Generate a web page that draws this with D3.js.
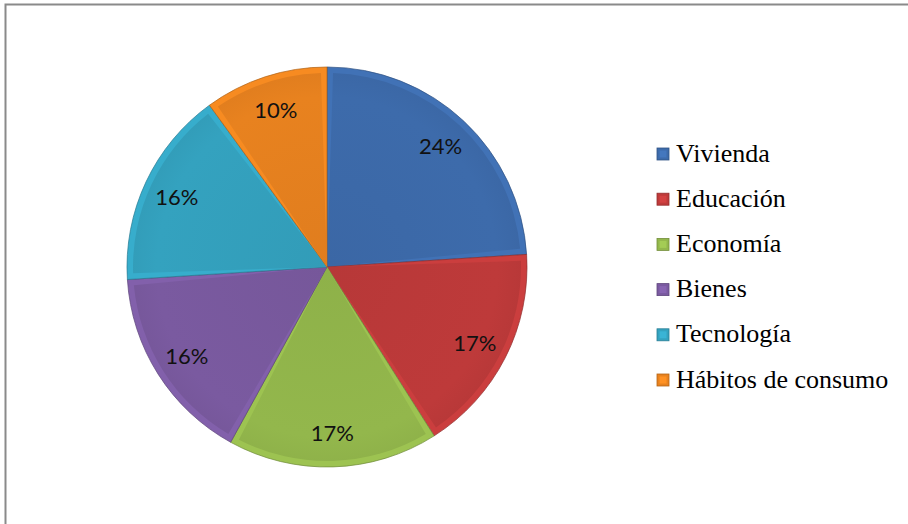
<!DOCTYPE html>
<html>
<head>
<meta charset="utf-8">
<script src="https://cdn.jsdelivr.net/npm/d3@7"></script>
<style>
  html, body { margin: 0; padding: 0; background: #fff; }
  svg { display: block; }
</style>
</head>
<body>
<svg id="chart" width="908" height="524"></svg>
<script>
// Distribution of categories (percent)
const categories = ["Vivienda", "Educación", "Economía", "Bienes", "Tecnología", "Hábitos de consumo"];
const values = [24, 17, 17, 16, 16, 10];
const colors = ["#3d6bab", "#be3a3a", "#93b74c", "#7a5aa0", "#34a2bf", "#e8821f"];

const svg = d3.select("#chart");

// Outer chart frame
svg.append("rect")
  .attr("x", 5.5).attr("y", 4.5)
  .attr("width", 1000).attr("height", 600)
  .attr("fill", "none")
  .attr("stroke", "#8a8a8a")
  .attr("stroke-width", 2);

const cx = 327, cy = 267, R = 200;
const bevel = 6;

const pie = d3.pie().sort(null).value(d => d.value);
const data = categories.map((c, i) => ({ name: c, value: values[i], color: colors[i] }));
const arcs = pie(data);

const outerArc = d3.arc().innerRadius(0).outerRadius(R);
const innerArc = d3.arc().innerRadius(0).outerRadius(R - bevel)
  .padAngle(2 * bevel / R).padRadius(R);
const labelArc = d3.arc().innerRadius(166).outerRadius(166);

const defs = svg.append("defs");
// Gentle shading across each slice face
arcs.forEach((a, i) => {
  const base = d3.color(a.data.color);
  const g = defs.append("radialGradient")
    .attr("id", "face" + i)
    .attr("gradientUnits", "userSpaceOnUse")
    .attr("cx", 0).attr("cy", 0).attr("r", R);
  g.append("stop").attr("offset", "0%").attr("stop-color", base.darker(0.1));
  g.append("stop").attr("offset", "85%").attr("stop-color", base);
  g.append("stop").attr("offset", "100%").attr("stop-color", base.darker(0.1));
});

const gPie = svg.append("g").attr("transform", `translate(${cx},${cy})`);

const slice = gPie.selectAll("g.slice").data(arcs).join("g").attr("class", "slice");

// Bevel rim
slice.append("path")
  .attr("d", outerArc)
  .attr("fill", d => d3.color(d.data.color).brighter(0.18))
  .attr("stroke", d => d3.color(d.data.color).darker(0.8))
  .attr("stroke-width", 0.7);

// Face
slice.append("path")
  .attr("d", innerArc)
  .attr("fill", (d, i) => `url(#face${i})`);

// Percentage labels
const total = d3.sum(values);
gPie.selectAll("text.pct").data(arcs).join("text")
  .attr("class", "pct")
  .attr("transform", d => `translate(${labelArc.centroid(d)})`)
  .attr("text-anchor", "middle")
  .attr("dominant-baseline", "central")
  .attr("font-family", "Lato, 'Open Sans', sans-serif")
  .attr("font-size", 22)
  .attr("fill", "#111")
  .text(d => Math.round(d.data.value / total * 100) + "%");

// Legend
const legend = svg.append("g").attr("transform", "translate(657,154)");
const rowH = 45.2;
const item = legend.selectAll("g").data(data).join("g")
  .attr("transform", (d, i) => `translate(0,${i * rowH})`);

item.append("rect")
  .attr("x", 0).attr("y", -6).attr("width", 12).attr("height", 12)
  .attr("fill", d => d.color)
  .attr("stroke", d => d3.color(d.color).darker(0.7))
  .attr("stroke-width", 0.8);
item.append("rect")
  .attr("x", 2.5).attr("y", -3.5).attr("width", 7).attr("height", 7)
  .attr("fill", d => d3.color(d.color).brighter(0.3));

item.append("text")
  .attr("x", 19).attr("y", -1)
  .attr("dominant-baseline", "central")
  .attr("font-family", "'Liberation Serif', 'Times New Roman', serif")
  .attr("font-size", 26)
  .attr("fill", "#000")
  .text(d => d.name);
</script>
</body>
</html>
